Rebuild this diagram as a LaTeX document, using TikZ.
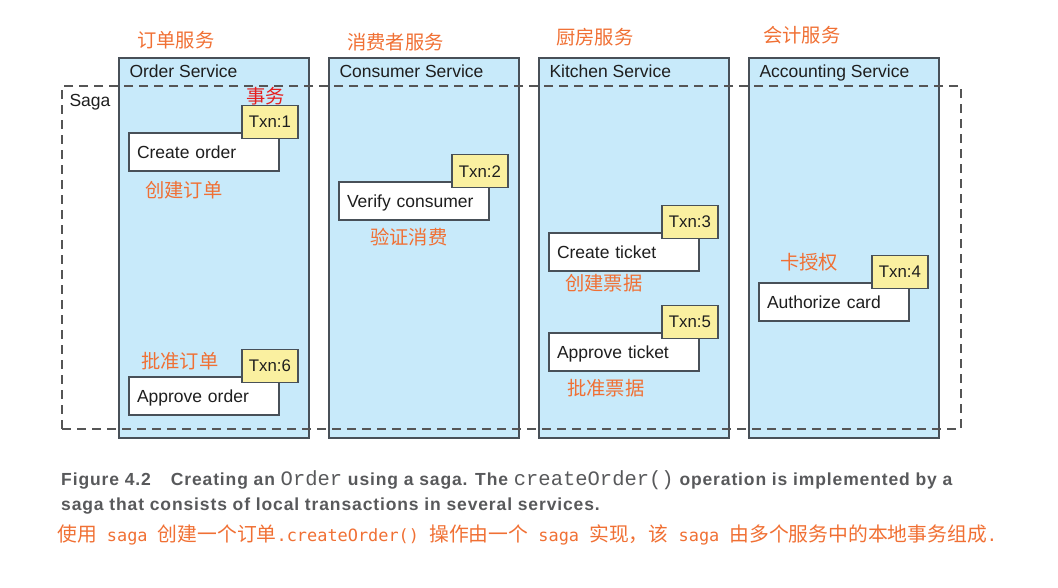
\documentclass[tikz,border=0pt]{standalone}
\usepackage{fontspec}
\setmainfont{Liberation Sans}
\newfontfamily\cjk{Noto Sans CJK SC}
\newfontfamily\capmono{DejaVu Sans Mono}
\newfontfamily\codefont{Liberation Mono}
\usetikzlibrary{positioning}

\definecolor{svcblue}{RGB}{200,234,250}
\definecolor{edge}{RGB}{72,80,88}
\definecolor{sagagray}{RGB}{85,85,85}
\definecolor{txnyellow}{RGB}{250,240,160}
\definecolor{zhorange}{RGB}{240,112,52}
\definecolor{zhred}{RGB}{230,30,30}
\definecolor{textdark}{RGB}{30,30,30}
\definecolor{capgray}{RGB}{88,89,91}

\begin{document}
\begin{tikzpicture}[x=1pt,y=-1pt]
    \tikzstyle{svc}=[draw=edge, fill=svcblue, line width=1.4pt, minimum width=190pt, minimum height=380pt, inner sep=0pt]
    \tikzstyle{svctitle}=[font=\fontsize{17.5}{20}\selectfont, text=textdark, inner sep=0pt, anchor=base west]
    \tikzstyle{saga}=[draw=sagagray, line width=1.3pt, dash pattern=on 9pt off 6pt, minimum width=899pt, minimum height=343pt, inner sep=0pt]
    \tikzstyle{stepbox}=[draw=edge, fill=white, line width=1.4pt, text width=134pt, inner xsep=8pt, inner ysep=0pt, minimum height=38pt, text height=14pt, text depth=2pt, align=left, text=textdark, font=\fontsize{17.5}{20}\selectfont]
    \tikzstyle{txn}=[draw=edge, fill=txnyellow, line width=1.2pt, minimum width=56pt, minimum height=33pt, inner sep=0pt, text=textdark, font=\fontsize{16.8}{20}\selectfont]
    \tikzstyle{zh}=[font=\cjk\fontsize{19.3}{22}\selectfont, text=zhorange, inner sep=0pt, anchor=west]
    \tikzstyle{caption}=[font=\bfseries\fontsize{17.5}{20}\selectfont\addfontfeature{LetterSpace=5}, text=capgray, inner sep=0pt, anchor=base west]

    \def\dx{210}

    \useasboundingbox (0,0) rectangle (1058,587);

    \foreach \n/\name/\i in {osvc/Order Service/0, csvc/Consumer Service/1, ksvc/Kitchen Service/2, asvc/Accounting Service/3} {
        \node[svc] (\n) at (214+\i*\dx, 248) {};
        \node[svctitle] (\n-title) at ([xshift=11pt,yshift=-20pt]\n.north west) {\name};
    }

    \node[zh] (osvc-zh) at (137,40) {订单服务};
    \node[zh] (csvc-zh) at (347,42) {消费者服务};
    \node[zh] (ksvc-zh) at (556,37) {厨房服务};
    \node[zh] (asvc-zh) at (763,35) {会计服务};

    \node[saga] (saga) at (511.5,257.5) {};
    \node[svctitle] (saga-title) at ([xshift=8pt,yshift=-21pt]saga.north west) {Saga};

    \foreach \n/\x/\y/\txt/\k in {cord/204/152/Create order/1, vcon/414/201/Verify consumer/2, ctkt/624/252/Create ticket/3, acard/834/302/Authorize card/4, atkt/624/352/Approve ticket/5, aord/204/396/Approve order/6} {
        \node[stepbox] (\n) at (\x,\y) {\txt};
        \node[txn, anchor=south west] (txn\k) at ([xshift=113pt,yshift=-7pt]\n.north west) {Txn:\k};
    }

    \node[zh, text=zhred] (txn-zh) at (246,96) {事务};
    \node[zh] (cord-zh) at (145,190) {创建订单};
    \node[zh] (vcon-zh) at (370,237) {验证消费};
    \node[zh] (ctkt-zh) at (565,283) {创建票据};
    \node[zh] (atkt-zh) at (567,388) {批准票据};
    \node[zh] (acard-zh) at (780,262) {卡授权};
    \node[zh] (aord-zh) at (141,361) {批准订单};

    \node[caption] (cap1) at (61,485) {Figure 4.2\hspace{20pt}Creating an {\codefont\mdseries\fontsize{20.5}{20}\selectfont Order} using a saga. The {\codefont\mdseries\fontsize{20.5}{20}\selectfont createOrder()} operation is implemented by a};
    \node[caption] (cap2) at (61,510) {saga that consists of local transactions in several services.};
    \node[caption, anchor=west, font=\fontsize{16.9}{20}\selectfont, text=zhorange] (cap3) at (57,535) {{\cjk\fontsize{19.8}{22}\selectfont 使用}{\capmono\ saga\ }{\cjk\fontsize{19.8}{22}\selectfont 创建一个订单}{\capmono .createOrder()\ }{\cjk\fontsize{19.8}{22}\selectfont 操作由一个}{\capmono\ saga\ }{\cjk\fontsize{19.8}{22}\selectfont 实现，该}{\capmono\ saga\ }{\cjk\fontsize{19.8}{22}\selectfont 由多个服务中的本地事务组成}{\capmono .}};

\end{tikzpicture}
\end{document}
